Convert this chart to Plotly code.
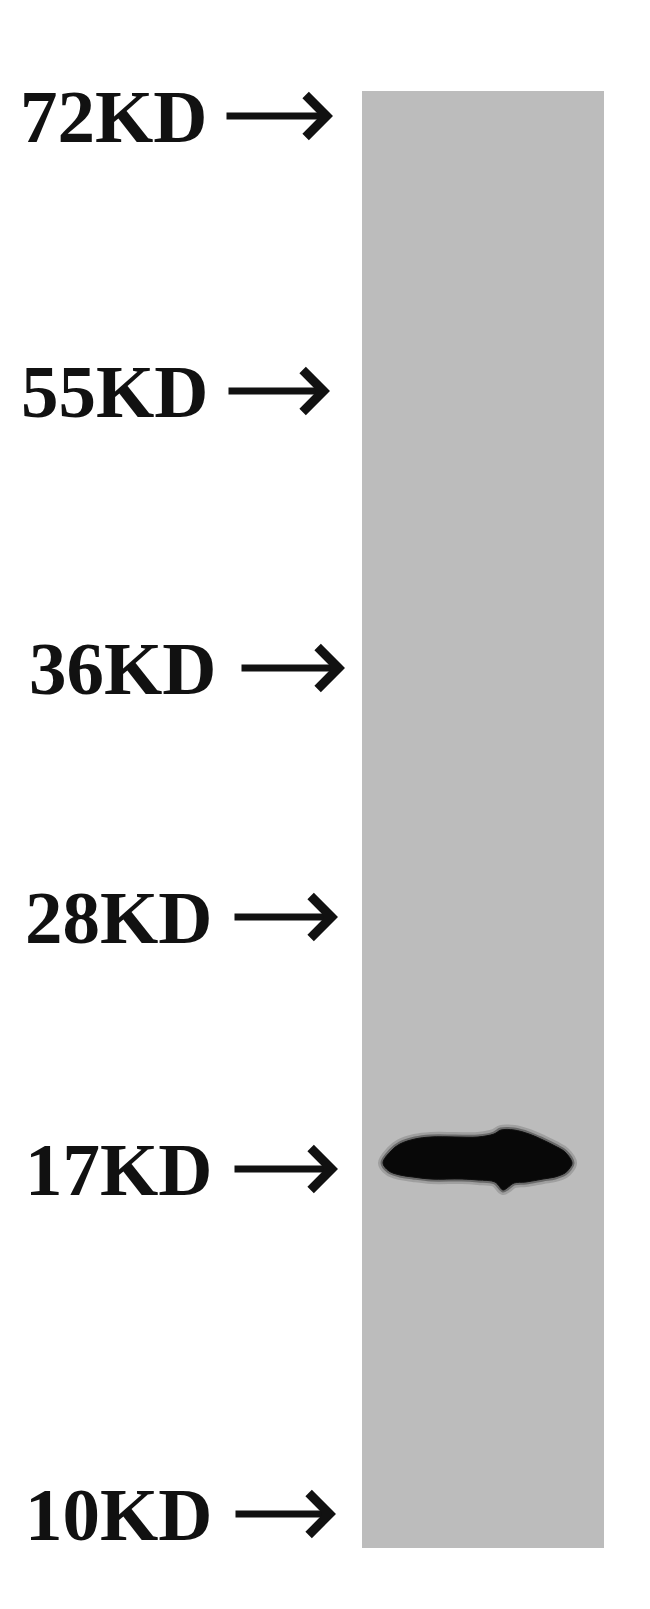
import plotly.graph_objects as go

# marker ladder
marker_labels = ["72KD", "55KD", "36KD", "28KD", "17KD", "10KD"]
marker_pos = [108, 383, 660, 909, 1161, 1506]  # migration position, px from top

# detected band (17 kDa), outline
band_x = [375, 383, 392, 407, 423, 447, 470, 486, 493, 506, 521, 535, 547, 557, 564,
          561, 557, 547, 535, 518, 506, 499, 495, 487, 470, 454, 423, 405, 392, 381, 375]
band_y = [1155, 1143, 1136, 1131, 1129, 1129, 1129, 1126, 1122, 1122, 1126, 1132, 1138, 1144, 1155,
          1161, 1165, 1169, 1171, 1174, 1175, 1180, 1182, 1174, 1172, 1171, 1171, 1169, 1167, 1163, 1155]

W, H = 650, 1609
lane = dict(x0=354, x1=596, y0=83, y1=1540)

# per-row label / arrow placement
label_right = [202, 203, 211, 207, 207, 207]
arrow_tail = [217, 219, 232, 225, 225, 226]
arrow_tip = [325, 322, 337, 330, 330, 328]

fig = go.Figure()

# soft halo around the band
fig.add_trace(go.Scatter(
    x=band_x, y=band_y, mode="lines", fill="toself",
    fillcolor="rgba(30,30,30,0.35)",
    line=dict(color="rgba(70,70,70,0.25)", width=10, shape="spline"),
    hoverinfo="skip", showlegend=False))
fig.add_trace(go.Scatter(
    x=band_x, y=band_y, mode="lines", fill="toself",
    fillcolor="rgba(20,20,20,0.6)",
    line=dict(color="rgba(40,40,40,0.45)", width=5, shape="spline"),
    hoverinfo="skip", showlegend=False))
# band core
fig.add_trace(go.Scatter(
    x=band_x, y=band_y, mode="lines", fill="toself",
    fillcolor="#080808", line=dict(color="#101010", width=1, shape="spline"),
    hoverinfo="skip", showlegend=False))

# lane background
fig.add_shape(type="rect", xref="x", yref="y", layer="below",
              fillcolor="#bcbcbc", line=dict(width=0), **lane)

for i, lab in enumerate(marker_labels):
    fig.add_annotation(
        x=label_right[i], y=marker_pos[i], xref="x", yref="y",
        text=lab, showarrow=False, xanchor="right", yanchor="middle",
        font=dict(family="Liberation Serif", size=75, color="#111111",
                  weight="bold"))
    fig.add_annotation(
        x=arrow_tip[i], y=marker_pos[i], ax=arrow_tail[i], ay=marker_pos[i],
        xref="x", yref="y", axref="x", ayref="y", text="",
        showarrow=True, arrowhead=4, arrowwidth=7, arrowsize=1.15,
        arrowcolor="#111111")

fig.update_xaxes(range=[0, W], visible=False, fixedrange=True)
fig.update_yaxes(range=[H, 0], visible=False, fixedrange=True)
fig.update_layout(
    width=W, height=H,
    margin=dict(l=0, r=0, t=0, b=0),
    paper_bgcolor="white", plot_bgcolor="white",
    showlegend=False)

fig.write_html("out.html")
